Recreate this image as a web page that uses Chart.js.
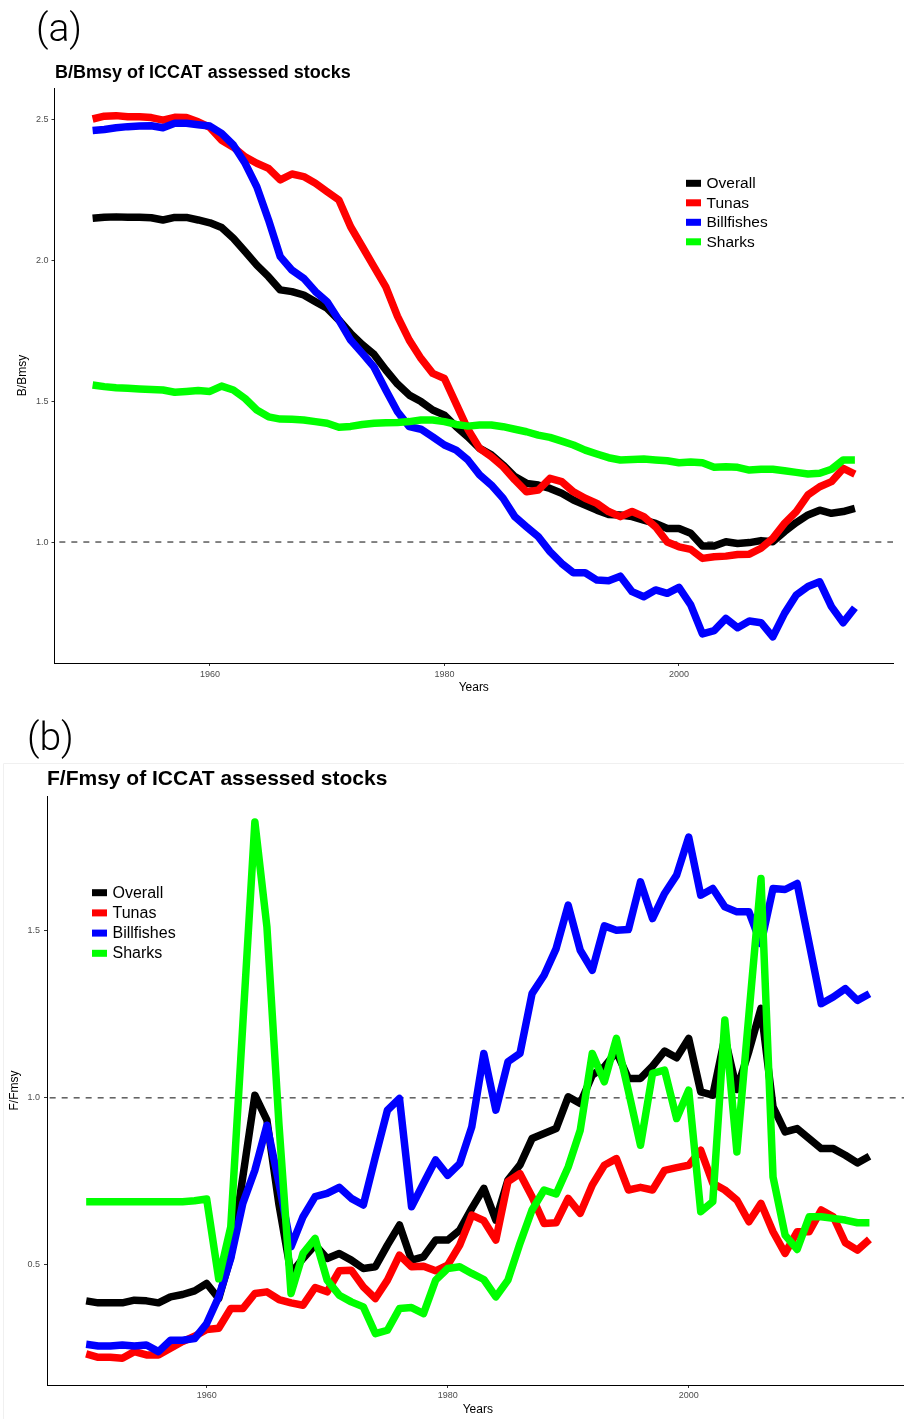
<!DOCTYPE html>
<html>
<head>
<meta charset="utf-8">
<script src="https://cdn.jsdelivr.net/npm/chart.js@4.4.0/dist/chart.umd.min.js"></script>
<style>
  html, body { margin: 0; padding: 0; background: #fff; }
  body { width: 904px; height: 1419px; position: relative; overflow: hidden; }
  .panel { position: absolute; left: 0; overflow: hidden; }
  #panelA { top: 0; width: 904px; height: 700px; }
  #panelB { top: 700px; width: 904px; height: 719px; }
</style>
</head>
<body>
<div class="panel" id="panelA"><canvas id="chartA" width="904" height="700"></canvas></div>
<div class="panel" id="panelB"><canvas id="chartB" width="912" height="719"></canvas></div>
<script>
// years of assessment
const years = [1950, 1951, 1952, 1953, 1954, 1955, 1956, 1957, 1958, 1959,
  1960, 1961, 1962, 1963, 1964, 1965, 1966, 1967, 1968, 1969,
  1970, 1971, 1972, 1973, 1974, 1975, 1976, 1977, 1978, 1979,
  1980, 1981, 1982, 1983, 1984, 1985, 1986, 1987, 1988, 1989,
  1990, 1991, 1992, 1993, 1994, 1995, 1996, 1997, 1998, 1999,
  2000, 2001, 2002, 2003, 2004, 2005, 2006, 2007, 2008, 2009,
  2010, 2011, 2012, 2013, 2014, 2015];

const seriesNames = ["Overall", "Tunas", "Billfishes", "Sharks"];
const seriesColors = ["#000000", "#ff0000", "#0000ff", "#00ff00"];

// (a) B/Bmsy
const bOverall = [2.148, 2.152, 2.153, 2.152, 2.152, 2.150, 2.142, 2.151, 2.151, 2.142,
  2.132, 2.115, 2.077, 2.030, 1.982, 1.941, 1.894, 1.888, 1.876, 1.852,
  1.829, 1.787, 1.740, 1.700, 1.665, 1.610, 1.560, 1.521, 1.498, 1.468,
  1.450, 1.409, 1.373, 1.332, 1.309, 1.273, 1.232, 1.208, 1.202, 1.190,
  1.173, 1.149, 1.131, 1.113, 1.098, 1.096, 1.090, 1.078, 1.066, 1.048,
  1.048, 1.031, 0.986, 0.986, 1.001, 0.995, 0.998, 1.005, 1.001, 1.037,
  1.069, 1.096, 1.113, 1.102, 1.108, 1.119];
const bTunas = [2.500, 2.510, 2.512, 2.508, 2.508, 2.505, 2.496, 2.506, 2.505, 2.490,
  2.470, 2.425, 2.400, 2.366, 2.343, 2.325, 2.284, 2.305, 2.296, 2.272,
  2.242, 2.213, 2.118, 2.047, 1.976, 1.905, 1.800, 1.716, 1.651, 1.598,
  1.580, 1.490, 1.400, 1.332, 1.303, 1.267, 1.220, 1.178, 1.184, 1.226,
  1.214, 1.178, 1.155, 1.137, 1.108, 1.090, 1.108, 1.090, 1.054, 1.000,
  0.983, 0.974, 0.942, 0.948, 0.950, 0.956, 0.957, 0.978, 1.013, 1.066,
  1.108, 1.167, 1.196, 1.214, 1.261, 1.241];
const bBillfishes = [2.459, 2.463, 2.469, 2.473, 2.475, 2.476, 2.469, 2.485, 2.485, 2.480,
  2.475, 2.449, 2.408, 2.343, 2.260, 2.142, 2.012, 1.964, 1.935, 1.888,
  1.852, 1.787, 1.716, 1.669, 1.620, 1.539, 1.462, 1.409, 1.400, 1.373,
  1.344, 1.326, 1.291, 1.238, 1.202, 1.155, 1.090, 1.054, 1.019, 0.966,
  0.924, 0.891, 0.891, 0.865, 0.863, 0.879, 0.824, 0.806, 0.830, 0.818,
  0.839, 0.777, 0.674, 0.686, 0.729, 0.696, 0.720, 0.714, 0.664, 0.747,
  0.812, 0.842, 0.859, 0.771, 0.714, 0.767];
const bSharks = [1.557, 1.551, 1.547, 1.545, 1.543, 1.541, 1.539, 1.531, 1.534, 1.537,
  1.534, 1.553, 1.539, 1.509, 1.468, 1.444, 1.436, 1.435, 1.433, 1.427,
  1.421, 1.407, 1.410, 1.417, 1.421, 1.423, 1.424, 1.427, 1.433, 1.433,
  1.427, 1.417, 1.411, 1.415, 1.415, 1.409, 1.400, 1.391, 1.379, 1.371,
  1.358, 1.344, 1.326, 1.312, 1.299, 1.291, 1.293, 1.294, 1.291, 1.288,
  1.281, 1.284, 1.281, 1.265, 1.267, 1.265, 1.255, 1.258, 1.258, 1.253,
  1.247, 1.241, 1.244, 1.258, 1.291, 1.291];

// (b) F/Fmsy
const fOverall = [0.392, 0.386, 0.386, 0.386, 0.394, 0.392, 0.386, 0.404, 0.411, 0.422,
  0.444, 0.399, 0.524, 0.763, 1.008, 0.933, 0.680, 0.474, 0.519, 0.559,
  0.519, 0.534, 0.514, 0.489, 0.494, 0.559, 0.619, 0.514, 0.524, 0.574,
  0.574, 0.604, 0.669, 0.729, 0.634, 0.754, 0.799, 0.878, 0.893, 0.908,
  1.003, 0.983, 1.068, 1.093, 1.138, 1.058, 1.058, 1.095, 1.140, 1.120,
  1.178, 1.018, 1.008, 1.180, 1.025, 1.140, 1.268, 0.973, 0.898, 0.908,
  0.878, 0.848, 0.848, 0.828, 0.805, 0.825];
const fTunas = [0.233, 0.223, 0.223, 0.220, 0.240, 0.230, 0.230, 0.250, 0.270, 0.286,
  0.306, 0.310, 0.369, 0.369, 0.414, 0.419, 0.396, 0.386, 0.379, 0.432,
  0.419, 0.482, 0.484, 0.434, 0.399, 0.454, 0.529, 0.494, 0.496, 0.482,
  0.499, 0.559, 0.649, 0.632, 0.574, 0.749, 0.773, 0.704, 0.624, 0.626,
  0.699, 0.654, 0.739, 0.798, 0.818, 0.724, 0.732, 0.724, 0.783, 0.791,
  0.798, 0.843, 0.744, 0.724, 0.694, 0.629, 0.684, 0.599, 0.534, 0.599,
  0.599, 0.664, 0.644, 0.566, 0.544, 0.576];
const fBillfishes = [0.262, 0.257, 0.257, 0.260, 0.257, 0.260, 0.240, 0.274, 0.274, 0.279,
  0.324, 0.404, 0.519, 0.684, 0.783, 0.918, 0.744, 0.554, 0.644, 0.704,
  0.714, 0.732, 0.699, 0.679, 0.823, 0.963, 0.998, 0.674, 0.744, 0.814,
  0.768, 0.803, 0.913, 1.133, 0.963, 1.108, 1.133, 1.312, 1.367, 1.447,
  1.577, 1.442, 1.382, 1.515, 1.502, 1.504, 1.647, 1.537, 1.612, 1.667,
  1.781, 1.607, 1.627, 1.572, 1.557, 1.557, 1.462, 1.627, 1.624, 1.642,
  1.462, 1.282, 1.302, 1.327, 1.292, 1.312];
const fSharks = [0.689, 0.689, 0.689, 0.689, 0.689, 0.689, 0.689, 0.689, 0.689, 0.692,
  0.697, 0.458, 0.614, 1.220, 1.826, 1.512, 0.920, 0.414, 0.534, 0.579,
  0.454, 0.409, 0.389, 0.374, 0.294, 0.304, 0.369, 0.372, 0.354, 0.454,
  0.489, 0.494, 0.474, 0.456, 0.404, 0.454, 0.564, 0.664, 0.724, 0.712,
  0.793, 0.903, 1.133, 1.048, 1.178, 1.020, 0.858, 1.073, 1.083, 0.938,
  1.023, 0.659, 0.689, 1.233, 0.838, 1.250, 1.657, 0.763, 0.589, 0.546,
  0.644, 0.644, 0.639, 0.634, 0.626, 0.626];

const xTicks = [1960, 1980, 2000];
const bTicks = [1.0, 1.5, 2.0, 2.5];
const fTicks = [0.5, 1.0, 1.5];
const refLevel = 1.0;

const FONT = "'Liberation Sans', Arial, Helvetica, sans-serif";

// draws panel letter, bold title, legend and faint frame
const panelDecor = {
  id: 'panelDecor',
  afterDraw(chart, args, o) {
    const ctx = chart.ctx;
    ctx.save();
    if (o.frame) {
      ctx.strokeStyle = '#f0f0f0';
      ctx.lineWidth = 1;
      ctx.beginPath();
      ctx.moveTo(3.5, chart.height);
      ctx.lineTo(3.5, o.frame + 0.5);
      ctx.lineTo(chart.width, o.frame + 0.5);
      ctx.stroke();
    }
    ctx.fillStyle = '#000';
    ctx.textBaseline = 'alphabetic';
    ctx.textAlign = 'left';
    ctx.font = "300 39px Roboto, " + FONT;
    ctx.fillText(o.letter, o.letterX, o.letterY);
    ctx.font = "bold " + o.titleSize + "px " + FONT;
    ctx.fillText(o.title, o.titleX, o.titleY);

    // legend from the chart datasets
    ctx.font = o.legendSize + "px " + FONT;
    ctx.textBaseline = 'middle';
    chart.data.datasets.forEach((ds, i) => {
      if (!ds.inLegend) return;
      const cy = o.legendY + i * o.legendGap;
      ctx.fillStyle = ds.borderColor;
      ctx.fillRect(o.legendX, cy - 3.5, 15, 7);
      ctx.fillStyle = '#000';
      ctx.fillText(ds.label, o.legendX + 20.5, cy + 0.5);
    });
    ctx.restore();
  }
};

function buildDatasets(values) {
  const sets = values.map((vals, i) => ({
    label: seriesNames[i],
    inLegend: true,
    data: years.map((yr, k) => ({ x: yr, y: vals[k] })),
    borderColor: seriesColors[i],
    backgroundColor: seriesColors[i],
    borderWidth: 7.5,
    borderJoinStyle: 'round',
    borderCapStyle: 'butt',
    pointRadius: 0,
    tension: 0,
    order: 4 - i
  }));
  sets.push({
    label: 'ref',
    inLegend: false,
    data: [{ x: 1940, y: refLevel }, { x: 2030, y: refLevel }],
    borderColor: '#333333',
    borderWidth: 1.2,
    borderDash: [6, 6],
    pointRadius: 0,
    order: 10
  });
  return sets;
}

function makeChart(id, cfg) {
  return new Chart(document.getElementById(id), {
    type: 'line',
    data: { datasets: buildDatasets(cfg.values) },
    options: {
      responsive: false,
      animation: false,
      devicePixelRatio: 1,
      layout: { padding: cfg.padding },
      plugins: {
        legend: { display: false },
        tooltip: { enabled: false },
        title: { display: false },
        panelDecor: cfg.decor
      },
      scales: {
        x: {
          type: 'linear',
          min: 1946.75,
          max: 2018.25,
          afterBuildTicks: s => { s.ticks = xTicks.map(v => ({ value: v })); },
          afterFit: s => { s.height = cfg.xHeight; },
          ticks: {
            callback: v => String(v),
            color: '#4d4d4d',
            font: { family: FONT, size: 9 },
            padding: cfg.xTickPad,
            maxRotation: 0,
            autoSkip: false
          },
          grid: { display: true, drawOnChartArea: false, drawTicks: true, tickLength: 3, tickColor: '#333', tickWidth: 1 },
          border: { display: true, color: '#000', width: 1 },
          title: {
            display: true, text: 'Years', color: '#000',
            font: { family: FONT, size: 12 },
            padding: { top: 0, bottom: cfg.xTitlePad }
          }
        },
        y: {
          type: 'linear',
          min: cfg.yMin,
          max: cfg.yMax,
          afterBuildTicks: s => { s.ticks = cfg.yTicks.map(v => ({ value: v })); },
          afterFit: s => { s.width = cfg.yWidth; },
          ticks: {
            callback: v => v.toFixed(1),
            color: '#4d4d4d',
            font: { family: FONT, size: 9 },
            padding: cfg.yTickPad,
            autoSkip: false
          },
          grid: { display: true, drawOnChartArea: false, drawTicks: true, tickLength: 3, tickColor: '#333', tickWidth: 1 },
          border: { display: true, color: '#000', width: 1 },
          title: {
            display: true, text: cfg.yTitle, color: '#000',
            font: { family: FONT, size: 12 },
            padding: { top: cfg.yTitlePad, bottom: 0 }
          }
        }
      }
    },
    plugins: [panelDecor]
  });
}

makeChart('chartA', {
  values: [bOverall, bTunas, bBillfishes, bSharks],
  yMin: 0.571, yMax: 2.610, yTicks: bTicks, yTitle: 'B/Bmsy',
  padding: { top: 88, right: 11, bottom: 0, left: 0 },
  xHeight: 37, yWidth: 54.5, xTickPad: 3, yTickPad: 3, xTitlePad: 4.8, yTitlePad: 15.3,
  decor: {
    letter: '(a)', letterX: 36, letterY: 41,
    title: 'B/Bmsy of ICCAT assessed stocks', titleSize: 18, titleX: 55, titleY: 78,
    legendX: 686, legendY: 183.3, legendGap: 19.5, legendSize: 15.5, frame: 0
  }
});

makeChart('chartB', {
  values: [fOverall, fTunas, fBillfishes, fSharks],
  yMin: 0.140, yMax: 1.904, yTicks: fTicks, yTitle: 'F/Fmsy',
  padding: { top: 96, right: 3.4, bottom: 0, left: 0 },
  xHeight: 34, yWidth: 47, xTickPad: 2, yTickPad: 4, xTitlePad: 1.8, yTitlePad: 7,
  decor: {
    letter: '(b)', letterX: 27, letterY: 50,
    title: 'F/Fmsy of ICCAT assessed stocks', titleSize: 21, titleX: 47, titleY: 85,
    legendX: 92, legendY: 192.7, legendGap: 20.2, legendSize: 16, frame: 63
  }
});
</script>
</body>
</html>
